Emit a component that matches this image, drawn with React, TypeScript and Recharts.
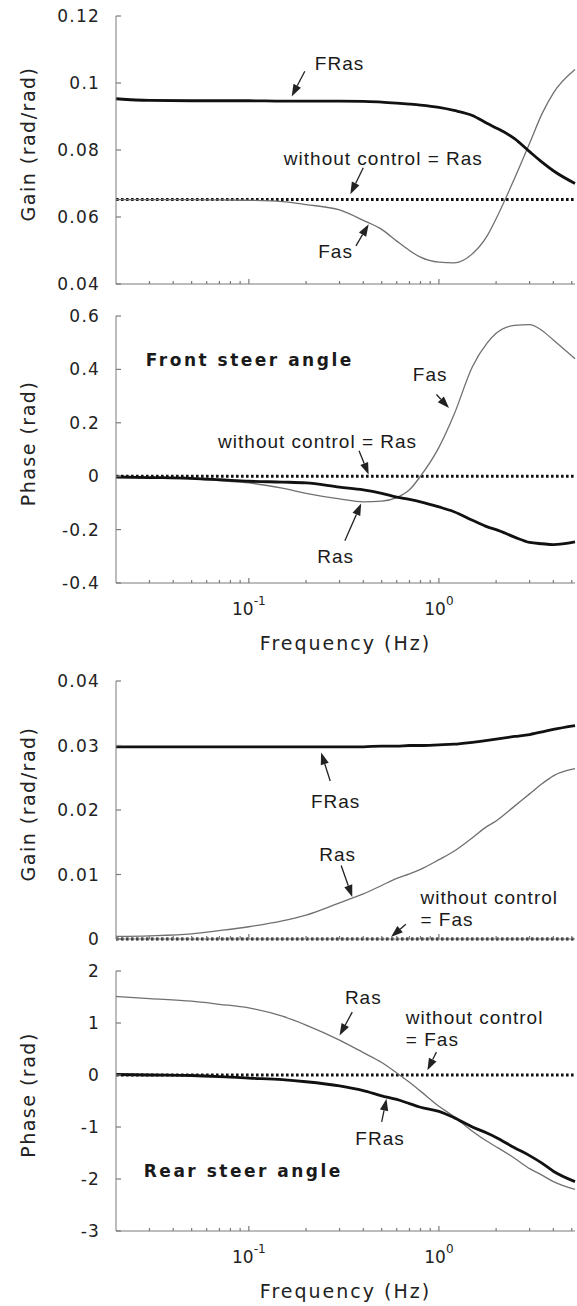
import React from "react";
import { LineChart, Line, XAxis, YAxis, ReferenceLine, ReferenceDot } from "recharts";

// frequency grid (Hz), shared by all four panels
const freq = [0.02, 0.03, 0.05, 0.07, 0.1, 0.15, 0.2, 0.3, 0.4, 0.5, 0.6, 0.7, 0.8, 1, 1.2, 1.5, 1.8, 2, 2.5, 3, 3.5, 4, 5.2];

// front steer angle - gain
const gainFrontFRas = [0.0953, 0.0948, 0.0947, 0.0947, 0.0947, 0.0946, 0.0946, 0.0946, 0.0945, 0.0943, 0.094, 0.0937, 0.0934, 0.0927, 0.0918, 0.0903, 0.0879, 0.0866, 0.0834, 0.0795, 0.0763, 0.0738, 0.07];
const gainFrontNone = [0.0652, 0.0652, 0.0652, 0.0652, 0.0652, 0.0652, 0.0652, 0.0652, 0.0652, 0.0652, 0.0652, 0.0652, 0.0652, 0.0652, 0.0652, 0.0652, 0.0652, 0.0652, 0.0652, 0.0652, 0.0652, 0.0652, 0.0652];
const gainFrontFas = [0.0652, 0.0652, 0.0652, 0.0651, 0.065, 0.0646, 0.0637, 0.0621, 0.059, 0.0563, 0.0528, 0.05, 0.048, 0.0465, 0.0463, 0.049, 0.0545, 0.0595, 0.0715, 0.082, 0.091, 0.097, 0.104];

// front steer angle - phase
const phaseFrontThick = [-0.003, -0.005, -0.008, -0.013, -0.019, -0.022, -0.025, -0.041, -0.051, -0.064, -0.078, -0.087, -0.096, -0.115, -0.133, -0.165, -0.19, -0.2, -0.228, -0.248, -0.253, -0.256, -0.246];
const phaseFrontNone = [0, 0, 0, 0, 0, 0, 0, 0, 0, 0, 0, 0, 0, 0, 0, 0, 0, 0, 0, 0, 0, 0, 0];
const phaseFrontThin = [-0.003, -0.005, -0.01, -0.017, -0.025, -0.045, -0.064, -0.085, -0.096, -0.093, -0.08, -0.051, 0, 0.108, 0.23, 0.41, 0.5, 0.535, 0.565, 0.568, 0.545, 0.51, 0.44];

// rear steer angle - gain
const gainRearFRas = [0.0298, 0.0298, 0.0298, 0.0298, 0.0298, 0.0298, 0.0298, 0.0298, 0.0298, 0.0299, 0.0299, 0.03, 0.03, 0.0301, 0.0302, 0.0305, 0.0308, 0.031, 0.0314, 0.0317, 0.0321, 0.0325, 0.0331];
const gainRearRas = [0.0004, 0.0005, 0.0008, 0.0013, 0.0019, 0.0028, 0.0037, 0.0056, 0.007, 0.0083, 0.0094, 0.0101, 0.0108, 0.0123, 0.0136, 0.0157, 0.0175, 0.0183, 0.0206, 0.0225, 0.0241, 0.0253, 0.0264];
const gainRearNone = [0, 0, 0, 0, 0, 0, 0, 0, 0, 0, 0, 0, 0, 0, 0, 0, 0, 0, 0, 0, 0, 0, 0];

// rear steer angle - phase
const phaseRearRas = [1.51, 1.47, 1.42, 1.36, 1.29, 1.13, 0.96, 0.67, 0.43, 0.24, 0.04, -0.14, -0.31, -0.6, -0.8, -1.08, -1.28, -1.38, -1.6, -1.8, -1.93, -2.05, -2.2];
const phaseRearNone = [0, 0, 0, 0, 0, 0, 0, 0, 0, 0, 0, 0, 0, 0, 0, 0, 0, 0, 0, 0, 0, 0, 0];
const phaseRearFRas = [0.01, 0, -0.01, -0.03, -0.06, -0.09, -0.13, -0.21, -0.3, -0.4, -0.47, -0.55, -0.62, -0.7, -0.82, -1.0, -1.12, -1.2, -1.4, -1.55, -1.7, -1.85, -2.05];

// axis ticks
const xDomain = [0.02, 5.2];
const xTicks = [0.03, 0.04, 0.05, 0.06, 0.07, 0.08, 0.09, 0.1, 0.2, 0.3, 0.4, 0.5, 0.6, 0.7, 0.8, 0.9, 1, 2, 3, 4, 5];
const decadeTicks = [0.1, 1];
const decadeExps = ["-1", "0"];

const gainFrontTicks = [0.04, 0.06, 0.08, 0.1, 0.12];
const gainFrontLabels = ["0.04", "0.06", "0.08", "0.1", "0.12"];
const phaseFrontTicks = [-0.4, -0.2, 0, 0.2, 0.4, 0.6];
const phaseFrontLabels = ["-0.4", "-0.2", "0", "0.2", "0.4", "0.6"];
const gainRearTicks = [0, 0.01, 0.02, 0.03, 0.04];
const gainRearLabels = ["0", "0.01", "0.02", "0.03", "0.04"];
const phaseRearTicks = [-3, -2, -1, 0, 1, 2];
const phaseRearLabels = ["-3", "-2", "-1", "0", "1", "2"];

// annotations (frequency, value)
const p1Notes = [
  { f: 0.3, v: 0.106, text: "FRas", anchor: "middle" },
  { f: 0.51, v: 0.0777, text: "without control = Ras", anchor: "middle" },
  { f: 0.286, v: 0.0499, text: "Fas", anchor: "middle" },
];
const p1Arrows = [
  { from: [0.197, 0.1035], to: [0.168, 0.096] },
  { from: [0.4, 0.0747], to: [0.342, 0.0668] },
  { from: [0.366, 0.0514], to: [0.427, 0.0578] },
];
const p2Notes = [
  { f: 0.0287, v: 0.44, text: "Front steer angle", anchor: "start", bold: true },
  { f: 0.9, v: 0.382, text: "Fas", anchor: "middle" },
  { f: 0.23, v: 0.13, text: "without control = Ras", anchor: "middle" },
  { f: 0.286, v: -0.299, text: "Ras", anchor: "middle" },
];
const p2Arrows = [
  { from: [0.97, 0.306], to: [1.13, 0.255] },
  { from: [0.38, 0.0955], to: [0.427, 0.006] },
  { from: [0.32, -0.242], to: [0.39, -0.102] },
];
const p3Notes = [
  { f: 0.286, v: 0.0214, text: "FRas", anchor: "middle" },
  { f: 0.293, v: 0.0132, text: "Ras", anchor: "middle" },
  { f: 0.8, v: 0.0065, text: "without control", anchor: "start" },
  { f: 0.8, v: 0.0031, text: "= Fas", anchor: "start" },
];
const p3Arrows = [
  { from: [0.268, 0.0245], to: [0.24, 0.0289] },
  { from: [0.306, 0.0114], to: [0.35, 0.0065] },
  { from: [0.67, 0.0023], to: [0.56, 0.0003] },
];
const p4Notes = [
  { f: 0.4, v: 1.5, text: "Ras", anchor: "middle" },
  { f: 0.67, v: 1.12, text: "without control", anchor: "start" },
  { f: 0.67, v: 0.7, text: "= Fas", anchor: "start" },
  { f: 0.49, v: -1.22, text: "FRas", anchor: "middle" },
  { f: 0.028, v: -1.83, text: "Rear steer angle", anchor: "start", bold: true },
];
const p4Arrows = [
  { from: [0.35, 1.21], to: [0.3, 0.76] },
  { from: [0.97, 0.44], to: [0.87, 0.09] },
  { from: [0.5, -0.9], to: [0.53, -0.455] },
];

const FRAME = "#7a7a7a";
const AXIS_FONT = "'DejaVu Sans', sans-serif";
const NOTE_FONT = "'Liberation Sans', Arial, sans-serif";

const thick = { stroke: "#111", strokeWidth: 2.8 };
const thin = { stroke: "#707070", strokeWidth: 1.3 };
const dotted = { stroke: "#111", strokeWidth: 3, strokeDasharray: "2.6 2.4" };

const makeRows = (cols: number[][]) =>
  freq.map((f, i) => {
    const row: any = { f };
    cols.forEach((c, k) => (row["s" + k] = c[i]));
    return row;
  });

const BottomTick = ({ x, y, payload, showLabel }: any) => {
  const idx = decadeTicks.indexOf(payload.value);
  const major = idx >= 0;
  return (
    <g>
      <line x1={x} x2={x} y1={y} y2={y - (major ? 5 : 3)} stroke={FRAME} strokeWidth={1.2} />
      {showLabel && major && (
        <text x={x} y={y + 32} textAnchor="middle" fontFamily={AXIS_FONT} fontSize={17} fill="#222">
          10
          <tspan dy={-10} fontSize={12}>{decadeExps[idx]}</tspan>
        </text>
      )}
    </g>
  );
};

const TopTick = ({ x, y, payload }: any) => {
  const major = decadeTicks.indexOf(payload.value) >= 0;
  return <line x1={x} x2={x} y1={y} y2={y + (major ? 5 : 3)} stroke={FRAME} strokeWidth={1.2} />;
};

const LeftTick = ({ x, y, payload, ticks, labels }: any) => {
  const i = ticks.indexOf(payload.value);
  return (
    <g>
      <line x1={x} x2={x + 5} y1={y} y2={y} stroke={FRAME} strokeWidth={1.2} />
      <text x={x - 16} y={y} dy={6} textAnchor="end" fontFamily={AXIS_FONT} fontSize={17} letterSpacing={1.2} fill="#222">
        {labels[i]}
      </text>
    </g>
  );
};

const RightTick = ({ x, y }: any) => <line x1={x} x2={x - 5} y1={y} y2={y} stroke={FRAME} strokeWidth={1.2} />;

const arrowShape = (p: any) => {
  const { x1, y1, x2, y2 } = p;
  const a = Math.atan2(y2 - y1, x2 - x1);
  const L = 12;
  const W = 4.2;
  const bx = x2 - L * Math.cos(a);
  const by = y2 - L * Math.sin(a);
  const pts = `${x2},${y2} ${bx - W * Math.sin(a)},${by + W * Math.cos(a)} ${bx + W * Math.sin(a)},${by - W * Math.cos(a)}`;
  return (
    <g>
      <line x1={x1} y1={y1} x2={bx} y2={by} stroke="#222" strokeWidth={1.3} />
      <polygon points={pts} fill="#222" />
    </g>
  );
};

const renderNotes = (notes: any[], arrows: any[]) => [
  ...arrows.map((a, i) => (
    <ReferenceLine
      key={"a" + i}
      segment={[{ x: a.from[0], y: a.from[1] }, { x: a.to[0], y: a.to[1] }]}
      shape={arrowShape}
      ifOverflow="visible"
    />
  )),
  ...notes.map((n, i) => (
    <ReferenceDot
      key={"n" + i}
      x={n.f}
      y={n.v}
      r={1}
      ifOverflow="visible"
      shape={(p: any) => (
        <text
          x={p.cx}
          y={p.cy}
          dy={7}
          textAnchor={n.anchor}
          fontFamily={n.bold ? AXIS_FONT : NOTE_FONT}
          fontWeight={n.bold ? 600 : 400}
          fontSize={n.bold ? 17 : 19}
          letterSpacing={n.bold ? 2.5 : 1}
          fill="#1a1a1a"
        >
          {n.text}
        </text>
      )}
    />
  )),
];

type PanelProps = {
  top: number;
  height: number;
  domain: number[];
  ticks: number[];
  labels: string[];
  yTitle: string;
  cols: number[][];
  styles: any[];
  xLabels: boolean;
  notes: any[];
  arrows: any[];
};

const Panel = ({ top, height, domain, ticks, labels, yTitle, cols, styles, xLabels, notes, arrows }: PanelProps) => {
  const mTop = 12;
  const bottom = xLabels ? 80 : 16;
  const data = makeRows(cols);
  return (
    <div style={{ position: "absolute", left: 0, top: top - mTop }}>
      <LineChart width={577} height={height + mTop + bottom} data={data} margin={{ top: mTop, right: 2, bottom: 0, left: 0 }}>
        <XAxis
          dataKey="f"
          type="number"
          scale="log"
          domain={xDomain}
          ticks={xTicks}
          interval={0}
          tickSize={0}
          tickMargin={0}
          height={bottom}
          stroke={FRAME}
          tick={(p: any) => <BottomTick {...p} showLabel={xLabels} />}
          label={
            xLabels
              ? {
                  content: (lp: any) => (
                    <text
                      x={lp.viewBox.x + lp.viewBox.width / 2}
                      y={lp.viewBox.y + 67}
                      textAnchor="middle"
                      fontFamily={AXIS_FONT}
                      fontSize={19}
                      letterSpacing={2}
                      fill="#222"
                    >
                      Frequency (Hz)
                    </text>
                  ),
                }
              : undefined
          }
        />
        <XAxis
          xAxisId="top"
          orientation="top"
          type="number"
          scale="log"
          domain={xDomain}
          ticks={xTicks}
          interval={0}
          tickSize={0}
          tickMargin={0}
          height={0}
          stroke={FRAME}
          tick={TopTick}
        />
        <YAxis
          type="number"
          domain={domain}
          ticks={ticks}
          interval={0}
          width={116}
          tickSize={0}
          tickMargin={0}
          stroke={FRAME}
          tick={(p: any) => <LeftTick {...p} ticks={ticks} labels={labels} />}
          label={{
            content: (lp: any) => {
              const cy = lp.viewBox.y + lp.viewBox.height / 2 - 6;
              return (
                <text
                  x={35}
                  y={cy}
                  transform={`rotate(-90, 35, ${cy})`}
                  textAnchor="middle"
                  fontFamily={AXIS_FONT}
                  fontSize={19}
                  letterSpacing={1.5}
                  fill="#222"
                >
                  {yTitle}
                </text>
              );
            },
          }}
        />
        <YAxis
          yAxisId="right"
          orientation="right"
          type="number"
          domain={domain}
          ticks={ticks}
          interval={0}
          width={0}
          tickSize={0}
          tickMargin={0}
          stroke={FRAME}
          tick={RightTick}
        />
        {cols.map((_, k) => (
          <Line key={k} dataKey={"s" + k} type="monotone" dot={false} isAnimationActive={false} {...styles[k]} />
        ))}
        {renderNotes(notes, arrows)}
      </LineChart>
    </div>
  );
};

export default function App() {
  return (
    <div style={{ position: "absolute", left: 0, top: 0, width: 577, height: 1306, background: "#fff" }}>
      <Panel
        top={16}
        height={268}
        domain={[0.04, 0.12]}
        ticks={gainFrontTicks}
        labels={gainFrontLabels}
        yTitle="Gain (rad/rad)"
        cols={[gainFrontNone, gainFrontFas, gainFrontFRas]}
        styles={[dotted, thin, thick]}
        xLabels={false}
        notes={p1Notes}
        arrows={p1Arrows}
      />
      <Panel
        top={316}
        height={267}
        domain={[-0.4, 0.6]}
        ticks={phaseFrontTicks}
        labels={phaseFrontLabels}
        yTitle="Phase (rad)"
        cols={[phaseFrontNone, phaseFrontThin, phaseFrontThick]}
        styles={[dotted, thin, thick]}
        xLabels={true}
        notes={p2Notes}
        arrows={p2Arrows}
      />
      <Panel
        top={681}
        height={258}
        domain={[0, 0.04]}
        ticks={gainRearTicks}
        labels={gainRearLabels}
        yTitle="Gain (rad/rad)"
        cols={[gainRearNone, gainRearRas, gainRearFRas]}
        styles={[dotted, thin, thick]}
        xLabels={false}
        notes={p3Notes}
        arrows={p3Arrows}
      />
      <Panel
        top={971}
        height={260}
        domain={[-3, 2]}
        ticks={phaseRearTicks}
        labels={phaseRearLabels}
        yTitle="Phase (rad)"
        cols={[phaseRearNone, phaseRearRas, phaseRearFRas]}
        styles={[dotted, thin, thick]}
        xLabels={true}
        notes={p4Notes}
        arrows={p4Arrows}
      />
    </div>
  );
}
